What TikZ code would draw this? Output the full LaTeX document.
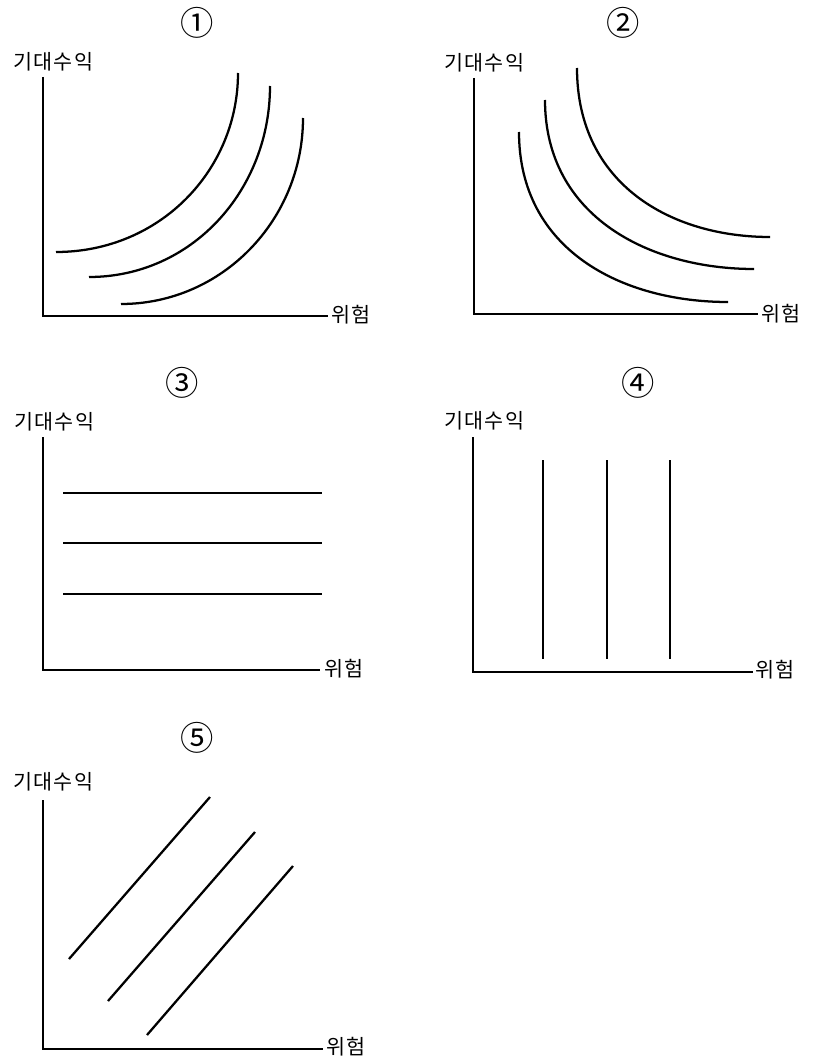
\documentclass[tikz,border=0pt]{standalone}
\usepackage{fontspec}
\newfontfamily\kr[LetterSpace=6]{Noto Sans CJK KR}
\newfontfamily\krnum{Noto Sans CJK KR}
\begin{document}
\begin{tikzpicture}[x=0.75pt,y=-0.75pt,
  axis/.style={line width=0.8pt},
  curve/.style={line width=1.7pt},
  ylab/.style={anchor=west,inner sep=0pt,font=\kr\fontsize{15.5pt}{15.5pt}\selectfont},
  xlab/.style={anchor=west,inner sep=0pt,font=\kr\fontsize{15.5pt}{15.5pt}\selectfont},
  num/.style={inner sep=0pt,font=\krnum\fontsize{25pt}{25pt}\selectfont}]
\useasboundingbox (0,0) rectangle (822,1059);
% ---------- panel 1
\node[num] (n1) at (197,23) {①};
\node[ylab] (y1) at (13,62) {기대수익};
\coordinate (t1) at (43,77);
\coordinate (o1) at (43,316);
\coordinate (r1) at (328,316);
\draw[axis] (t1) -- (o1) -- (r1);
\node[xlab] (x1) at (331,315) {위험};
\draw[curve] (56,252) .. controls (160,252) and (238,170) .. (238,73);
\draw[curve] (89,277) .. controls (192,277) and (270,190) .. (270,86);
\draw[curve] (121,304) .. controls (222,304) and (303,220) .. (303,118);
% ---------- panel 2
\node[num] (n2) at (623,23) {②};
\node[ylab] (y2) at (444,63) {기대수익};
\coordinate (t2) at (474,78);
\coordinate (o2) at (474,314);
\coordinate (r2) at (758,314);
\draw[axis] (t2) -- (o2) -- (r2);
\node[xlab] (x2) at (761,314) {위험};
\draw[curve] (577,68) .. controls (577,185) and (672,237) .. (770,237);
\draw[curve] (545,100) .. controls (545,217) and (650,269) .. (754,269);
\draw[curve] (519,132) .. controls (519,250) and (622,302) .. (728,302);
% ---------- panel 3
\node[num] (n3) at (182,383) {③};
\node[ylab] (y3) at (14,422) {기대수익};
\coordinate (t3) at (43,437);
\coordinate (o3) at (43,670);
\coordinate (r3) at (320,670);
\draw[axis] (t3) -- (o3) -- (r3);
\node[xlab] (x3) at (324,669) {위험};
\draw[curve] (63,493) -- (322,493);
\draw[curve] (63,543) -- (322,543);
\draw[curve] (63,594) -- (322,594);
% ---------- panel 4
\node[num] (n4) at (638,383) {④};
\node[ylab] (y4) at (444,421) {기대수익};
\coordinate (t4) at (473,437);
\coordinate (o4) at (473,672);
\coordinate (r4) at (753,672);
\draw[axis] (t4) -- (o4) -- (r4);
\node[xlab] (x4) at (755,670) {위험};
\draw[curve] (543,460) -- (543,659);
\draw[curve] (607,460) -- (607,659);
\draw[curve] (670,460) -- (670,659);
% ---------- panel 5
\node[num] (n5) at (197,738) {⑤};
\node[ylab] (y5) at (13,782) {기대수익};
\coordinate (t5) at (43,800);
\coordinate (o5) at (43,1049);
\coordinate (r5) at (323,1049);
\draw[axis] (t5) -- (o5) -- (r5);
\node[xlab] (x5) at (326,1047) {위험};
\draw[curve] (69,959) -- (210,797);
\draw[curve] (108,1001) -- (255,832);
\draw[curve] (147,1035) -- (293,866);
\end{tikzpicture}
\end{document}
